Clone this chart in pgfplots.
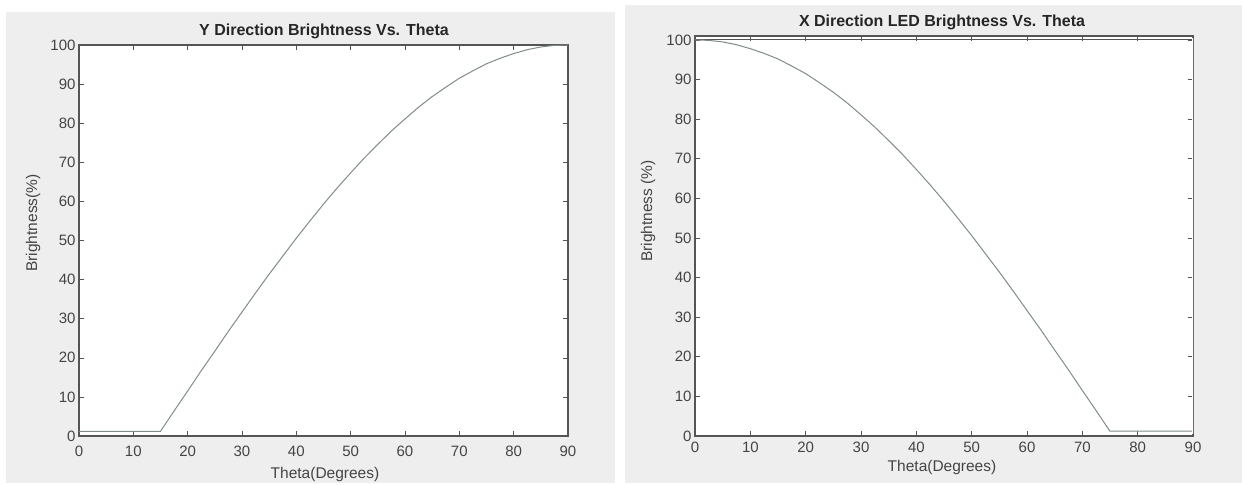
\documentclass[border=0pt]{standalone}
\usepackage{fontspec}
\setmainfont{Liberation Sans}
\usepackage{pgfplots}
\usepackage{pgfplotstable}
\pgfplotsset{compat=1.18}

\definecolor{panelbg}{HTML}{EEEEEE}
\definecolor{framec}{HTML}{555555}
\definecolor{curvec}{HTML}{808C8A}
\definecolor{tickc}{HTML}{444444}

% Y direction: flat until 15 deg, then rising
\pgfplotstableread{
theta val
0    1.2
15   1.2
17.5 6.4
20   11.5
22.5 16.7
25   21.7
27.5 26.8
30   31.7
32.5 36.6
35   41.4
37.5 46.0
40   50.6
42.5 55.0
45   59.3
47.5 63.4
50   67.3
52.5 71.1
55   74.6
57.5 78.0
60   81.1
62.5 84.1
65   86.8
67.5 89.2
70   91.5
72.5 93.4
75   95.2
77.5 96.6
80   97.8
82.5 98.8
85   99.5
87.5 99.9
90   100.0
}\ydir

% X direction: falling until 75 deg, then flat
\pgfplotstableread{
theta val
0    100.0
2.5  99.9
5    99.5
7.5  98.8
10   97.8
12.5 96.6
15   95.2
17.5 93.4
20   91.5
22.5 89.2
25   86.8
27.5 84.1
30   81.1
32.5 78.0
35   74.6
37.5 71.1
40   67.3
42.5 63.4
45   59.3
47.5 55.0
50   50.6
52.5 46.0
55   41.4
57.5 36.6
60   31.7
62.5 26.8
65   21.7
67.5 16.7
70   11.5
72.5 6.4
75   1.2
90   1.2
}\xdir

\pgfplotsset{
  matstyle/.style={
    scale only axis, anchor=south west,
    xmin=0, xmax=90, ymin=0,
    xtick={0,10,...,90}, ytick={0,10,...,100},
    tick align=inside, major tick length=5pt,
    tick style={framec, line width=0.6pt},
    axis line style={framec, line width=1.2pt},
    ticklabel style={font=\fontsize{15}{15}\selectfont, text=tickc},
    /pgf/number format/assume math mode=true,
    axis background/.style={fill=white},
  },
}

\begin{document}
\begin{tikzpicture}[x=1pt, y=1pt]
  \fill[white] (0,0) rectangle (1242,483);
  \fill[panelbg] (6,0) rectangle (615,471);
  \fill[panelbg] (625,0) rectangle (1242,478);

  % left panel
  \begin{axis}[matstyle, at={(79pt,47pt)}, width=489pt, height=391pt, ymax=100,
    xticklabel shift=6pt]
    \addplot[curvec, line width=1pt] table[x=theta, y=val] {\ydir};
  \end{axis}
  \node[font=\bfseries\fontsize{16}{16}\selectfont, text=black!85] at (324,452) {Y Direction Brightness Vs. Theta};
  \node[font=\fontsize{15.5}{15.5}\selectfont, text=tickc] at (325,9) {Theta(Degrees)};
  \node[font=\fontsize{15.5}{15.5}\selectfont, text=tickc, rotate=90] at (33,260) {Brightness(\%)};

  % right panel
  \begin{axis}[matstyle, at={(695pt,47pt)}, width=498pt, height=400pt, ymax=101,
    xticklabel shift=2pt]
    \addplot[framec, line width=1pt] coordinates {(0,100) (90,100)};
    \addplot[curvec, line width=1pt] table[x=theta, y=val] {\xdir};
    \draw[white, line width=1.4pt] (rel axis cs:1,0.005) -- (rel axis cs:1,0.995);
  \end{axis}
  \node[font=\bfseries\fontsize{16}{16}\selectfont, text=black!85] at (942,461) {X Direction LED Brightness Vs. Theta};
  \node[font=\fontsize{15.5}{15.5}\selectfont, text=tickc] at (942,16) {Theta(Degrees)};
  \node[font=\fontsize{15.5}{15.5}\selectfont, text=tickc, rotate=90] at (648,272) {Brightness (\%)};
\end{tikzpicture}
\end{document}
